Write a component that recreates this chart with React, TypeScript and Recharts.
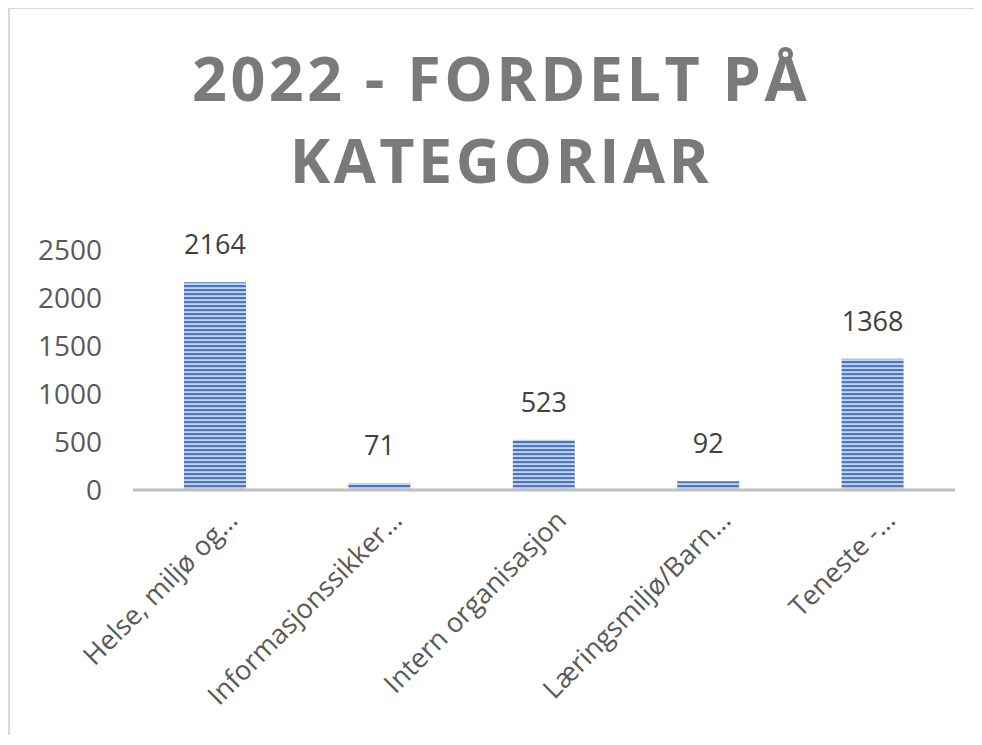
import { BarChart, Bar, XAxis, YAxis, LabelList } from 'recharts';

const categories = [
  'Helse, miljø og…',
  'Informasjonssikker…',
  'Intern organisasjon',
  'Læringsmiljø/Barn…',
  'Teneste -…',
];
const counts = [2164, 71, 523, 92, 1368];
const yTicks = [0, 500, 1000, 1500, 2000, 2500];
const titleLines = ['2022 - FORDELT PÅ', 'KATEGORIAR'];

const data = categories.map((name, i) => ({ name, value: counts[i] }));

const FONT = '"Open Sans", "Noto Sans", sans-serif';

function AngledTick(props: any) {
  const { x, y, payload } = props;
  return (
    <g transform={`translate(${x + 24},${y + 24})`}>
      <text
        transform="rotate(-45)"
        textAnchor="end"
        fill="#595959"
        fontSize={27}
        fontFamily={FONT}>
        {payload.value}
      </text>
    </g>
  );
}

function App() {
  return (
    <div
      style={{
        marginLeft: -1,
        marginTop: -2,
        width: 964,
        height: 726,
        borderTop: '3px solid #d9d9d9',
        borderLeft: '3px solid #d9d9d9',
        background: '#fff',
        overflow: 'hidden',
      }}>
      <BarChart
        width={964}
        height={726}
        data={data}
        margin={{ top: 241, right: 19, left: 23, bottom: 5 }}>
        <defs>
          <pattern id="stripes" width="8" height="4" patternUnits="userSpaceOnUse">
            <rect width="8" height="4" fill="#c9d6ef" />
            <rect width="8" height="2.2" fill="#4a76c6" />
          </pattern>
        </defs>
        <text
          x={491}
          textAnchor="middle"
          fill="#7a7a7a"
          fontFamily={FONT}
          fontWeight={700}
          fontSize={61}
          letterSpacing={3.5}>
          <tspan x={491} y={92}>{titleLines[0]}</tspan>
          <tspan x={491} y={174}>{titleLines[1]}</tspan>
        </text>
        <XAxis
          dataKey="name"
          interval={0}
          height={240}
          tickLine={false}
          axisLine={{ stroke: '#bfbfbf', strokeWidth: 3 }}
          tick={<AngledTick />}
        />
        <YAxis
          width={100}
          domain={[0, 2500]}
          ticks={yTicks}
          interval={0}
          axisLine={false}
          tickLine={false}
          tickSize={0}
          tickMargin={31}
          tick={{ fill: '#595959', fontSize: 28, fontFamily: FONT }}
        />
        <Bar dataKey="value" fill="url(#stripes)" barSize={62} isAnimationActive={false}>
          <LabelList
            dataKey="value"
            position="top"
            offset={28}
            fill="#404040"
            fontSize={27}
            fontFamily={FONT}
          />
        </Bar>
      </BarChart>
    </div>
  );
}

export default App;
